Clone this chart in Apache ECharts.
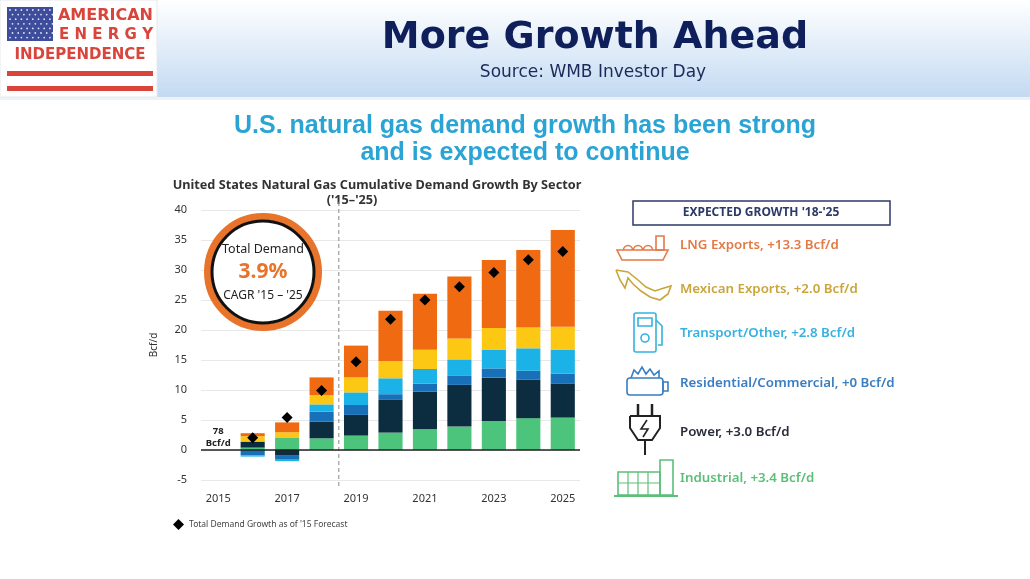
<!DOCTYPE html>
<html lang="en">
<head>
    <meta charset="UTF-8">
    <title>More Growth Ahead</title>
    <script src="https://cdn.jsdelivr.net/npm/echarts@6.0.0/dist/echarts.min.js"></script>
    <style type="text/css">
        *{
            padding: 0px;
            margin: 0px;
            border: 0px;
        }
        #main{
            width: 1030px;
            height: 579px;
            background: #fff;
        }
    </style>
</head>
<body>
<div id="main"></div>
<script>

    // categories
    var years = ['2015', '2016', '2017', '2018', '2019', '2020', '2021', '2022', '2023', '2024', '2025'];

    // cumulative growth by sector, Bcf/d
    var industrial  = [null, 0.4,  2.0,  1.95, 2.4,  2.9,  3.45, 3.9,  4.85, 5.3,  5.4];
    var power       = [null, 1.0, -0.95, 2.8,  3.45, 5.45, 6.3,  6.95, 7.2,  6.4,  5.7];
    var residential = [null, -0.9, -0.55, 1.65, 1.65, 0.95, 1.3, 1.5,  1.55, 1.5,  1.65];
    var transport   = [null, -0.2, -0.35, 1.2, 2.1,  2.65, 2.45, 2.75, 3.15, 3.75, 4.0];
    var mexican     = [null, 0.9,  0.95, 1.55, 2.5,  2.9,  3.2,  3.5,  3.6,  3.45, 3.8];
    var lng         = [null, 0.5,  1.65, 2.95, 5.3,  8.35, 9.35, 10.3, 11.3, 12.95, 16.1];

    // total demand growth as of '15 forecast
    var forecast15  = [null, 2.05, 5.4, 9.9, 14.7, 21.8, 25.0, 27.2, 29.6, 31.7, 33.1];

    // right hand legend texts
    var growthLabels = [
        'LNG Exports, +13.3 Bcf/d',
        'Mexican Exports, +2.0 Bcf/d',
        'Transport/Other, +2.8 Bcf/d',
        'Residential/Commercial, +0 Bcf/d',
        'Power, +3.0 Bcf/d',
        'Industrial, +3.4 Bcf/d'
    ];
    var growthColors = ['#e27a45', '#c9a53a', '#35b2e0', '#3a7dc0', '#2a2d3a', '#5cbf78'];

    var C = {
        industrial: '#4cc47b',
        power: '#0c2c3f',
        residential: '#1870b8',
        transport: '#1bb2e8',
        mexican: '#fdc814',
        lng: '#ef6a11'
    };

    var chart = echarts.init(document.getElementById('main'));

    function bar(name, data, color) {
        return {
            name: name,
            type: 'bar',
            stack: 'total',
            barWidth: '70%',
            data: data,
            itemStyle: {color: color},
            silent: true
        };
    }

    var series = [
        bar('Industrial', industrial, C.industrial),
        bar('Power', power, C.power),
        bar('Residential/Commercial', residential, C.residential),
        bar('Transport/Other', transport, C.transport),
        bar('Mexican Exports', mexican, C.mexican),
        bar('LNG Exports', lng, C.lng),
        {
            name: "Total Demand Growth as of '15 Forecast",
            type: 'scatter',
            symbol: 'diamond',
            symbolSize: 11,
            data: forecast15,
            itemStyle: {color: '#000', opacity: 1},
            silent: true,
            z: 5
        }
    ];
    // zero line
    series[0].markLine = {
        silent: true,
        symbol: 'none',
        label: {show: false},
        lineStyle: {color: '#222', width: 1.5, type: 'solid'},
        data: [{yAxis: 0}]
    };

    var option = {
        animation: false,
        backgroundColor: '#fff',
        textStyle: {fontFamily: 'Noto Sans'},
        grid: {left: 201, top: 210, width: 379, height: 270},
        legend: {
            data: ["Total Demand Growth as of '15 Forecast"],
            left: 168,
            top: 514,
            icon: 'diamond',
            itemWidth: 11,
            itemHeight: 11,
            itemGap: 6,
            textStyle: {fontSize: 8.5, color: '#444', fontFamily: 'Noto Sans'}
        },
        xAxis: {
            type: 'category',
            data: years,
            axisLine: {show: false},
            axisTick: {show: false},
            axisLabel: {interval: 1, color: '#333', fontSize: 11, margin: 13}
        },
        yAxis: {
            type: 'value',
            min: -5,
            max: 40,
            interval: 5,
            name: 'Bcf/d',
            nameLocation: 'middle',
            nameRotate: 90,
            nameGap: 42,
            nameTextStyle: {fontSize: 10, color: '#333'},
            axisLabel: {color: '#333', fontSize: 11, margin: 14},
            splitLine: {lineStyle: {color: '#e8e8e8'}}
        },
        series: series
    };
    chart.setOption(option);

    // decorations that depend on the axes
    var xa = chart.convertToPixel({xAxisIndex: 0}, '2018');
    var xb = chart.convertToPixel({xAxisIndex: 0}, '2019');
    var x15 = chart.convertToPixel({xAxisIndex: 0}, '2015');
    var yTop = chart.convertToPixel({yAxisIndex: 0}, 40);
    var yBot = chart.convertToPixel({yAxisIndex: 0}, -5);
    var y0 = chart.convertToPixel({yAxisIndex: 0}, 0);
    var xDash = (xa + xb) / 2;

    var g = [];

    // header band
    g.push({
        type: 'rect', shape: {x: 0, y: 0, width: 1030, height: 97}, z: 0,
        style: {fill: new echarts.graphic.LinearGradient(0, 0, 0, 1, [
            {offset: 0, color: '#ffffff'}, {offset: 1, color: '#c3daf2'}])}
    });
    g.push({type: 'rect', shape: {x: 0, y: 97, width: 1030, height: 3}, style: {fill: '#eef2f7'}});
    // logo
    g.push({type: 'rect', shape: {x: 0, y: 0, width: 157, height: 97}, style: {fill: '#fff', stroke: '#e4e8ee', lineWidth: 1}});
    g.push({type: 'rect', shape: {x: 7, y: 7, width: 46, height: 34}, style: {fill: '#3d4c9b'}});
    for (var r = 0; r < 7; r++) {
        for (var c = 0; c < 8; c++) {
            g.push({type: 'circle', shape: {cx: 10 + c * 5.7 + (r % 2) * 2.5, cy: 10 + r * 4.6, r: 0.9}, style: {fill: '#dfe3f5'}});
        }
    }
    g.push({type: 'text', style: {x: 153, y: 16, text: 'AMERICAN', fill: '#d9443b', font: 'bold 16px "DejaVu Sans"', textAlign: 'right', textVerticalAlign: 'middle'}});
    g.push({type: 'text', style: {x: 153, y: 35, text: 'E N E R G Y', fill: '#d9443b', font: 'bold 15px "DejaVu Sans"', textAlign: 'right', textVerticalAlign: 'middle'}});
    g.push({type: 'text', style: {x: 80, y: 55, text: 'INDEPENDENCE', fill: '#d9443b', font: 'bold 15px "DejaVu Sans"', textAlign: 'center', textVerticalAlign: 'middle'}});
    g.push({type: 'rect', shape: {x: 7, y: 71, width: 146, height: 5}, style: {fill: '#d9443b'}});
    g.push({type: 'rect', shape: {x: 7, y: 86, width: 146, height: 5}, style: {fill: '#d9443b'}});

    // titles
    g.push({type: 'text', style: {x: 595, y: 38, text: 'More Growth Ahead', fill: '#0e1f5b', font: 'bold 38px "DejaVu Sans"', textAlign: 'center', textVerticalAlign: 'middle'}});
    g.push({type: 'text', style: {x: 593, y: 73, text: 'Source: WMB Investor Day', fill: '#1b2a5a', font: '17px "DejaVu Sans"', textAlign: 'center', textVerticalAlign: 'middle'}});
    g.push({type: 'text', style: {x: 525, y: 126, text: 'U.S. natural gas demand growth has been strong', fill: '#2aa4d5', font: 'bold 25px "Liberation Sans"', textAlign: 'center', textVerticalAlign: 'middle'}});
    g.push({type: 'text', style: {x: 525, y: 153, text: 'and is expected to continue', fill: '#2aa4d5', font: 'bold 25px "Liberation Sans"', textAlign: 'center', textVerticalAlign: 'middle'}});
    g.push({type: 'text', style: {x: 377, y: 185, text: 'United States Natural Gas Cumulative Demand Growth By Sector', fill: '#333', font: 'bold 12.7px "Noto Sans"', textAlign: 'center', textVerticalAlign: 'middle'}});
    g.push({type: 'text', style: {x: 352, y: 200, text: "('15\u2013'25)", fill: '#333', font: 'bold 12.7px "Noto Sans"', textAlign: 'center', textVerticalAlign: 'middle'}});

    // dashed divider between actuals and outlook
    g.push({type: 'line', shape: {x1: xDash, y1: yTop - 8, x2: xDash, y2: yBot + 7}, style: {stroke: '#888', lineWidth: 1, lineDash: [4, 3]}});

    // 78 Bcf/d base note
    g.push({type: 'text', style: {x: x15, y: y0 - 19, text: '78', fill: '#222', font: 'bold 9.5px "Noto Sans"', textAlign: 'center', textVerticalAlign: 'middle'}});
    g.push({type: 'text', style: {x: x15, y: y0 - 7, text: 'Bcf/d', fill: '#222', font: 'bold 9.5px "Noto Sans"', textAlign: 'center', textVerticalAlign: 'middle'}});

    // CAGR badge
    g.push({type: 'circle', shape: {cx: 263, cy: 272, r: 55.5}, style: {fill: '#fff', stroke: '#e8732a', lineWidth: 7}});
    g.push({type: 'circle', shape: {cx: 263, cy: 272, r: 51}, style: {fill: 'none', stroke: '#111', lineWidth: 3}});
    g.push({type: 'text', style: {x: 263, y: 249, text: 'Total Demand', fill: '#222', font: '12.5px "Noto Sans"', textAlign: 'center', textVerticalAlign: 'middle'}});
    g.push({type: 'text', style: {x: 263, y: 272, text: '3.9%', fill: '#e8732a', font: 'bold 21px "Noto Sans"', textAlign: 'center', textVerticalAlign: 'middle'}});
    g.push({type: 'text', style: {x: 263, y: 296, text: "CAGR '15 \u2013 '25", fill: '#222', font: '12px "Noto Sans"', textAlign: 'center', textVerticalAlign: 'middle'}});

    // expected growth box
    g.push({type: 'rect', shape: {x: 633, y: 201, width: 257, height: 24}, style: {fill: '#fff', stroke: '#2b3a67', lineWidth: 1.5}});
    g.push({type: 'text', style: {x: 761, y: 213, text: "EXPECTED GROWTH '18-'25", fill: '#2b3a67', font: 'bold 12px "Noto Sans"', textAlign: 'center', textVerticalAlign: 'middle'}});

    var rowY = [245, 289, 333, 383, 432, 478];
    for (var i = 0; i < growthLabels.length; i++) {
        g.push({type: 'text', style: {x: 680, y: rowY[i], text: growthLabels[i], fill: growthColors[i], font: '600 13.3px "Noto Sans"', textVerticalAlign: 'middle'}});
    }

    // simple icons
    var ic = {fill: 'none', lineWidth: 1.6};
    // LNG ship
    g.push({type: 'polygon', shape: {points: [[617, 250], [668, 250], [663, 260], [622, 260]]}, style: Object.assign({}, ic, {stroke: growthColors[0]})});
    [628, 638, 648].forEach(function (cx) {
        g.push({type: 'arc', shape: {cx: cx, cy: 250, r: 4.5, startAngle: Math.PI, endAngle: 0}, style: Object.assign({}, ic, {stroke: growthColors[0]})});
    });
    g.push({type: 'rect', shape: {x: 656, y: 236, width: 8, height: 14}, style: Object.assign({}, ic, {stroke: growthColors[0]})});
    // Mexico
    g.push({type: 'polyline', shape: {points: [[616, 270], [628, 272], [638, 280], [646, 287], [655, 291], [664, 288], [671, 286], [668, 294], [660, 300], [650, 297], [641, 291], [633, 284], [628, 278], [625, 288], [620, 280], [616, 270]]}, style: Object.assign({}, ic, {stroke: growthColors[1]})});
    // pump
    g.push({type: 'rect', shape: {x: 634, y: 313, width: 22, height: 39, r: 2}, style: Object.assign({}, ic, {stroke: growthColors[2]})});
    g.push({type: 'rect', shape: {x: 638, y: 318, width: 14, height: 8}, style: Object.assign({}, ic, {stroke: growthColors[2]})});
    g.push({type: 'circle', shape: {cx: 645, cy: 338, r: 4}, style: Object.assign({}, ic, {stroke: growthColors[2]})});
    g.push({type: 'polyline', shape: {points: [[656, 320], [662, 326], [662, 345], [658, 345]]}, style: Object.assign({}, ic, {stroke: growthColors[2]})});
    // furnace
    g.push({type: 'rect', shape: {x: 627, y: 378, width: 36, height: 17, r: 3}, style: Object.assign({}, ic, {stroke: growthColors[3]})});
    g.push({type: 'polyline', shape: {points: [[631, 378], [634, 370], [638, 374], [642, 367], [646, 374], [650, 369], [654, 375], [659, 371], [659, 378]]}, style: Object.assign({}, ic, {stroke: growthColors[3]})});
    g.push({type: 'rect', shape: {x: 663, y: 382, width: 5, height: 9}, style: Object.assign({}, ic, {stroke: growthColors[3]})});
    // plug
    g.push({type: 'polyline', shape: {points: [[630, 416], [660, 416], [660, 428], [652, 440], [638, 440], [630, 428], [630, 416]]}, style: Object.assign({}, ic, {stroke: '#222', lineWidth: 2})});
    g.push({type: 'line', shape: {x1: 638, y1: 404, x2: 638, y2: 416}, style: {stroke: '#222', lineWidth: 2.5}});
    g.push({type: 'line', shape: {x1: 652, y1: 404, x2: 652, y2: 416}, style: {stroke: '#222', lineWidth: 2.5}});
    g.push({type: 'line', shape: {x1: 645, y1: 440, x2: 645, y2: 455}, style: {stroke: '#222', lineWidth: 2}});
    g.push({type: 'polyline', shape: {points: [[647, 420], [641, 429], [648, 429], [643, 437]]}, style: Object.assign({}, ic, {stroke: '#222'})});
    // factory
    g.push({type: 'rect', shape: {x: 618, y: 472, width: 42, height: 23}, style: Object.assign({}, ic, {stroke: growthColors[5]})});
    g.push({type: 'rect', shape: {x: 660, y: 460, width: 13, height: 35}, style: Object.assign({}, ic, {stroke: growthColors[5]})});
    g.push({type: 'line', shape: {x1: 614, y1: 496, x2: 678, y2: 496}, style: {stroke: growthColors[5], lineWidth: 2}});
    [628, 638, 648].forEach(function (lx) {
        g.push({type: 'line', shape: {x1: lx, y1: 472, x2: lx, y2: 495}, style: {stroke: growthColors[5], lineWidth: 1.2}});
    });
    g.push({type: 'line', shape: {x1: 618, y1: 483, x2: 660, y2: 483}, style: {stroke: growthColors[5], lineWidth: 1.2}});

    chart.setOption({graphic: g});

</script>
</body>
</html>
